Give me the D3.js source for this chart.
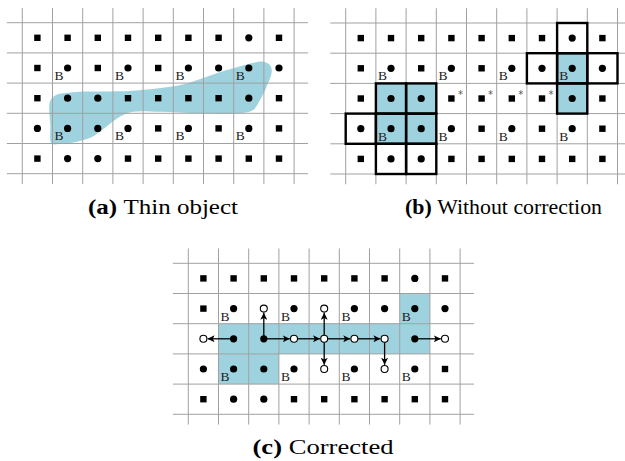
<!DOCTYPE html>
<html>
<head>
<meta charset="utf-8">
<script src="https://cdn.jsdelivr.net/npm/d3@7"></script>
<style>
  body { margin: 0; background: #fff; }
  svg { display: block; }
</style>
</head>
<body>
<svg id="chart" width="625" height="461"></svg>
<script>
// marker layout per panel: S = square, C = filled circle, O = open circle
var gridA = ["SSSSSSSCS", "SCSCSCCCC", "SCCSSSSCS", "CCCCSCSCS", "SCCSSSSSS"];
var gridC = ["SSSSSSSCS", "SCOCOCCCC", "OCCOOOOCO", "CCCCOCOCS", "SCCSSSSSS"];
var bLabels = [[1, 1], [1, 3], [1, 5], [1, 7], [3, 1], [3, 3], [3, 5], [3, 7]];

// blob outline of the thin object, in (col, row) grid units
var blob = [[0.97, 4.0], [0.93, 3.4], [0.92, 2.6], [1.1, 2.4], [1.68, 2.3], [2.57, 2.28], [3.67, 2.25],
  [4.78, 2.14], [5.44, 2.01], [6.11, 1.79], [6.77, 1.57], [7.43, 1.38], [7.98, 1.29],
  [8.2, 1.4], [8.26, 1.62], [8.09, 2.12], [7.87, 2.56], [7.64, 2.89], [7.21, 3.0],
  [5.88, 3.0], [4.56, 2.95], [3.67, 2.95], [3.24, 3.11], [2.79, 3.44], [2.34, 3.77],
  [1.8, 3.94], [1.2, 4.02]];

var blueB = [[2, 1], [2, 2], [3, 1], [3, 2], [1, 7], [2, 7]];
var boxedB = [[2, 1], [2, 2], [3, 1], [3, 2], [3, 0], [4, 1], [4, 2], [0, 7], [1, 6], [1, 7], [1, 8], [2, 7]];
var starsB = [[2, 3], [2, 4], [2, 5], [2, 6]];

var blueC = [[2, 1], [2, 2], [2, 3], [2, 4], [2, 5], [2, 6], [2, 7], [3, 1], [3, 2], [1, 7]];
// arrows: from [row, col] to [row, col]
var arrowsC = [[2, 1, 2, 0], [2, 2, 1, 2], [2, 2, 2, 3], [2, 3, 2, 4], [2, 4, 1, 4], [2, 4, 3, 4],
  [2, 4, 2, 5], [2, 5, 2, 6], [2, 6, 3, 6], [2, 7, 2, 8]];

var captions = [
  { tag: "(a)", text: "Thin object" },
  { tag: "(b)", text: "Without correction" },
  { tag: "(c)", text: "Corrected" }
];

var svg = d3.select("#chart");
var cell = 30.2;
var blue = "#9dd2de";
var serif = "'Liberation Serif', 'Times New Roman', serif";

svg.append("defs").append("marker")
  .attr("id", "head")
  .attr("viewBox", "0 0 10 10")
  .attr("refX", 10).attr("refY", 5)
  .attr("markerWidth", 7).attr("markerHeight", 7)
  .attr("markerUnits", "userSpaceOnUse")
  .attr("orient", "auto")
  .append("path").attr("d", "M0,0L10,5L0,10L2.5,5Z").attr("fill", "#000");

function panel(x0, y0) {
  var g = svg.append("g");
  var x = d3.scaleLinear().domain([0, 9]).range([x0, x0 + 9 * cell]);
  var y = d3.scaleLinear().domain([0, 5]).range([y0, y0 + 5 * cell]);
  return { g: g, x: x, y: y };
}

function fillCells(p, cells, color) {
  p.g.selectAll(null).data(cells).enter().append("rect")
    .attr("x", function(d) { return p.x(d[1]); })
    .attr("y", function(d) { return p.y(d[0]); })
    .attr("width", cell).attr("height", cell)
    .attr("fill", color);
}

function drawGrid(p) {
  p.g.selectAll(null).data(d3.range(10)).enter().append("line")
    .attr("x1", function(d) { return p.x(d); }).attr("x2", function(d) { return p.x(d); })
    .attr("y1", p.y(-0.49)).attr("y2", p.y(5.34))
    .attr("stroke", "#a0a0a0").attr("stroke-width", 1);
  p.g.selectAll(null).data(d3.range(6)).enter().append("line")
    .attr("y1", function(d) { return p.y(d); }).attr("y2", function(d) { return p.y(d); })
    .attr("x1", p.x(-0.51)).attr("x2", p.x(9.46))
    .attr("stroke", "#a0a0a0").attr("stroke-width", 1);
}

function drawMarkers(p, grid) {
  var pts = [];
  grid.forEach(function(row, r) {
    row.split("").forEach(function(k, c) { pts.push({ r: r, c: c, k: k }); });
  });
  pts.forEach(function(d) {
    var cx = p.x(d.c + 0.5), cy = p.y(d.r + 0.5);
    if (d.k === "S") {
      p.g.append("rect").attr("x", cx - 3.2).attr("y", cy - 3.2)
        .attr("width", 6.4).attr("height", 6.4).attr("fill", "#000");
    } else if (d.k === "C") {
      p.g.append("circle").attr("cx", cx).attr("cy", cy).attr("r", 3.6).attr("fill", "#000");
    } else {
      p.g.append("circle").attr("cx", cx).attr("cy", cy).attr("r", 3.5)
        .attr("fill", "#fff").attr("stroke", "#000").attr("stroke-width", 1.1);
    }
  });
  p.g.selectAll(null).data(bLabels).enter().append("text")
    .attr("x", function(d) { return p.x(d[1] + 0.5) - 13; })
    .attr("y", function(d) { return p.y(d[0] + 0.5) + 12; })
    .style("font-family", serif)
    .attr("font-size", 13.5)
    .attr("fill", "#222")
    .text("B");
}

function caption(cx, cy, cap, width) {
  var t = svg.append("text")
    .attr("x", cx - width / 2).attr("y", cy)
    .style("font-family", serif)
    .attr("font-size", 20)
    .attr("fill", "#000")
    .attr("textLength", width).attr("lengthAdjust", "spacingAndGlyphs");
  t.append("tspan").attr("font-weight", "bold").text(cap.tag);
  t.append("tspan").text("\u00a0" + cap.text);
}

// (a) thin object
var pa = panel(22.3, 22.7);
pa.g.append("path")
  .attr("d", d3.line()
    .x(function(d) { return pa.x(d[0]); })
    .y(function(d) { return pa.y(d[1]); })
    .curve(d3.curveCatmullRomClosed.alpha(0.5))(blob))
  .attr("fill", blue);
drawGrid(pa);
drawMarkers(pa, gridA);
caption(163, 213.5, captions[0], 150);

// (b) without correction
var pb = panel(345.7, 23);
fillCells(pb, blueB, blue);
drawGrid(pb);
pb.g.selectAll(null).data(boxedB).enter().append("rect")
  .attr("x", function(d) { return pb.x(d[1]); })
  .attr("y", function(d) { return pb.y(d[0]); })
  .attr("width", cell).attr("height", cell)
  .attr("fill", "none").attr("stroke", "#000").attr("stroke-width", 2.4);
drawMarkers(pb, gridA);
pb.g.selectAll(null).data(starsB).enter().append("text")
  .attr("x", function(d) { return pb.x(d[1] + 0.5) + 9; })
  .attr("y", function(d) { return pb.y(d[0] + 0.5) - 0.5; })
  .attr("text-anchor", "middle")
  .style("font-family", "'DejaVu Sans', sans-serif")
  .attr("font-size", 10)
  .attr("fill", "#555")
  .text("*");
caption(503.5, 213.5, captions[1], 197);

// (c) corrected
var pc = panel(188.3, 263.3);
fillCells(pc, blueC, blue);
drawGrid(pc);
pc.g.selectAll(null).data(arrowsC).enter().append("line")
  .attr("x1", function(d) { return pc.x(d[1] + 0.5); })
  .attr("y1", function(d) { return pc.y(d[0] + 0.5); })
  .attr("x2", function(d) { return pc.x(d[3] + 0.5) - Math.sign(d[3] - d[1]) * 4.2; })
  .attr("y2", function(d) { return pc.y(d[2] + 0.5) - Math.sign(d[2] - d[0]) * 4.2; })
  .attr("stroke", "#000").attr("stroke-width", 1.3)
  .attr("marker-end", "url(#head)");
drawMarkers(pc, gridC);
caption(323, 453.5, captions[2], 141);
</script>
</body>
</html>
